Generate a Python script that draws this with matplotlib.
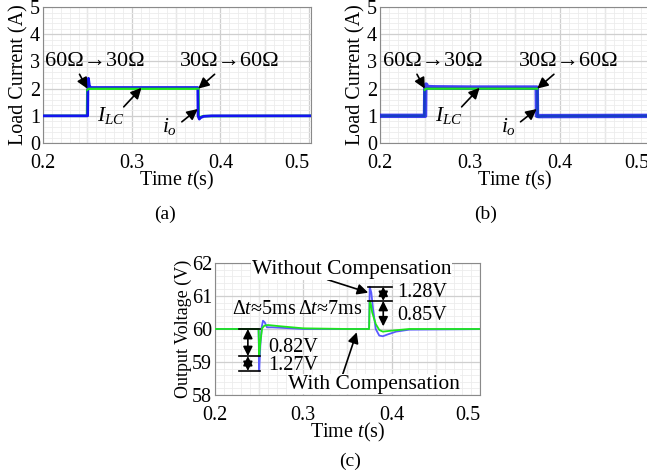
import matplotlib
matplotlib.use("Agg")
import numpy as np
import matplotlib.pyplot as plt
from matplotlib.ticker import MultipleLocator

plt.rcParams['font.family'] = ['Liberation Serif', 'DejaVu Serif']
plt.rcParams['mathtext.fontset'] = 'custom'
plt.rcParams['mathtext.rm'] = 'Liberation Serif'
plt.rcParams['mathtext.it'] = 'Liberation Serif:italic'
plt.rcParams['font.size'] = 14.5

# load current, case (a)
t_io_a = [0.2, 0.2503, 0.2506, 0.2512, 0.2522, 0.2535, 0.26, 0.30, 0.3745, 0.3748, 0.3762, 0.3775, 0.381, 0.39, 0.52]
io_a = [1.0, 1.0, 2.0, 2.38, 2.12, 2.04, 2.04, 2.04, 2.04, 1.0, 0.88, 0.93, 0.98, 1.0, 1.0]
t_ilc_a = [0.2, 0.2496, 0.2499, 0.2506, 0.2515, 0.3752, 0.3755, 0.377, 0.381, 0.52]
ilc_a = [1.0, 1.0, 1.95, 1.98, 2.0, 2.0, 0.96, 0.95, 0.99, 1.0]

# load current, case (b)
t_io_b = [0.2, 0.2503, 0.2506, 0.2515, 0.253, 0.26, 0.30, 0.3745, 0.3748, 0.377, 0.52]
io_b = [1.0, 1.0, 2.0, 2.15, 2.06, 2.05, 2.04, 2.04, 1.0, 0.99, 1.0]
t_ilc_b = [0.2, 0.2496, 0.2499, 0.2506, 0.2515, 0.3752, 0.3755, 0.377, 0.381, 0.52]
ilc_b = [1.0, 1.0, 1.95, 1.98, 2.0, 2.0, 0.97, 0.97, 0.99, 1.0]

# output voltage, (c)
t_wo = [0.2, 0.2495, 0.2502, 0.2515, 0.253, 0.2545, 0.2565, 0.259, 0.265, 0.30, 0.3745, 0.3752,
        0.377, 0.379, 0.382, 0.386, 0.39, 0.395, 0.405, 0.42, 0.52]
v_wo = [60.0, 60.0, 58.73, 59.5, 60.05, 60.25, 60.2, 60.05, 60.05, 60.0, 60.0, 61.28,
        61.1, 60.6, 60.0, 59.8, 59.78, 59.83, 59.92, 59.98, 60.0]
t_w = [0.2, 0.2495, 0.2502, 0.2515, 0.2535, 0.256, 0.26, 0.275, 0.30, 0.35, 0.3745, 0.3752,
       0.3765, 0.378, 0.382, 0.386, 0.39, 0.40, 0.42, 0.52]
v_w = [60.0, 60.0, 59.18, 59.6, 60.02, 60.1, 60.12, 60.08, 60.02, 60.0, 60.0, 60.85,
       60.75, 60.5, 60.15, 59.97, 59.92, 59.95, 60.0, 60.0]

blue = '#1414f0'
green = '#1ee61e'


def style_axes(ax, xlim, ylim, ymajor, yminor):
    ax.set_xlim(*xlim)
    ax.set_ylim(*ylim)
    ax.xaxis.set_minor_locator(MultipleLocator(0.01))
    ax.yaxis.set_major_locator(MultipleLocator(ymajor))
    ax.yaxis.set_minor_locator(MultipleLocator(yminor))
    for x in np.arange(xlim[0], xlim[1] + 1e-9, 0.05):
        ax.axvline(x, color='#cfcfcf', lw=0.9, zorder=0)
    ax.grid(which='major', axis='y', color='#cfcfcf', lw=0.9, zorder=0)
    ax.grid(which='minor', color='#ececec', lw=0.6, zorder=0)
    ax.set_axisbelow(True)
    ax.tick_params(which='both', length=0)
    ax.tick_params(axis='x', pad=8)
    ax.tick_params(axis='y', pad=2)
    for s in ax.spines.values():
        s.set_color('#8a8a8a')
        s.set_linewidth(0.8)
    ax.set_xticks([0.2, 0.3, 0.4, 0.5])
    ax.set_xticklabels(['0.2', '0.3', '0.4', '0.5'])
    ax.get_xticklabels()[-1].set_ha('right')
    ax.set_xlabel('Time $t$(s)', labelpad=-3)


fig = plt.figure(figsize=(6.47, 4.72), dpi=100)

arrow = dict(arrowstyle='-|>', color='k', lw=1.2, mutation_scale=16, shrinkA=0, shrinkB=0)
twoway = dict(arrowstyle='<|-|>', color='k', lw=1.2, mutation_scale=14, shrinkA=0, shrinkB=0)
wbox = dict(facecolor='white', edgecolor='none', pad=0.5)

panels = [
    ([0.0665, 0.697, 0.414, 0.288], t_io_a, io_a, t_ilc_a, ilc_a, 2.0, 0.502, '(a)', 0.255),
    ([0.587, 0.697, 0.417, 0.288], t_io_b, io_b, t_ilc_b, ilc_b, 3.2, 0.5, '(b)', 0.75),
]
for rect, t_io, io, t_ilc, ilc, lw_io, xmax, tag, tag_x in panels:
    ax = fig.add_axes(rect)
    ax.plot(t_ilc, ilc, color=green, lw=1.8, zorder=2)
    ax.plot(t_io, io, color=blue, lw=lw_io, alpha=0.8 if lw_io > 2 else 1, zorder=3)
    ax.plot(t_ilc[2:6], ilc[2:6], color=green, lw=1.4, zorder=4)
    style_axes(ax, (0.2, xmax), (0, 5), 1, 0.2)
    ax.set_ylabel('Load Current (A)', labelpad=1)
    ax.annotate('60Ω→30Ω', xy=(0.25, 2.0), xytext=(0.2585, 2.98), ha='center', va='center',
                fontsize=16, arrowprops=dict(arrow, relpos=(0.33, 0.0)), zorder=6)
    ax.annotate('30Ω→60Ω', xy=(0.375, 2.0), xytext=(0.4105, 2.98), ha='center', va='center',
                fontsize=16, arrowprops=dict(arrow, relpos=(0.38, 0.0)), zorder=6)
    ax.annotate('', xy=(0.311, 2.03), xytext=(0.291, 1.33), arrowprops=arrow, zorder=6)
    ax.text(0.277, 1.0, '$I_{LC}$', ha='center', va='center', fontsize=15.5)
    ax.annotate('', xy=(0.3745, 1.25), xytext=(0.3565, 0.78), arrowprops=arrow, zorder=6)
    ax.text(0.343, 0.62, '$i_o$', ha='center', va='center', fontsize=15.5)
    fig.text(tag_x, 0.545, tag, ha='center', va='center', fontsize=14)

# output voltage comparison
ax = fig.add_axes([0.332, 0.163, 0.41, 0.28])
ax.plot(t_wo, v_wo, color='#5a5aff', lw=1.3, zorder=2)
ax.plot(t_w, v_w, color=green, lw=1.3, zorder=3)
style_axes(ax, (0.2, 0.5), (58, 62), 1, 0.2)
ax.set_ylabel('Output Voltage (V)', labelpad=0, fontsize=13)

# drop / rise markers
for y in [60.0, 59.18, 58.73]:
    ax.plot([0.227, 0.251], [y, y], color='k', lw=1.2, zorder=5)
for y in [61.28, 60.85]:
    ax.plot([0.3735, 0.4005], [y, y], color='k', lw=1.2, zorder=5)
ax.annotate('', xy=(0.2374, 60.0), xytext=(0.2374, 59.18), arrowprops=twoway, zorder=6)
ax.annotate('', xy=(0.2374, 59.18), xytext=(0.2374, 58.73), arrowprops=twoway, zorder=6)
ax.annotate('', xy=(0.3905, 61.28), xytext=(0.3905, 60.85), arrowprops=twoway, zorder=6)
ax.annotate('', xy=(0.3905, 60.85), xytext=(0.3905, 60.08), arrowprops=twoway, zorder=6)
ax.text(0.2605, 59.45, '0.82V', ha='left', va='center')
ax.text(0.2605, 58.9, '1.27V', ha='left', va='center')
ax.text(0.4065, 61.09, '1.28V', ha='left', va='center')
ax.text(0.4065, 60.42, '0.85V', ha='left', va='center')
ax.text(0.2556, 60.6, 'Δ$t$≈5ms', ha='center', va='center')
ax.text(0.3305, 60.6, 'Δ$t$≈7ms', ha='center', va='center')
ax.annotate('Without Compensation', xy=(0.3735, 61.1), xytext=(0.3545, 61.8),
            ha='center', va='center', fontsize=15.5, bbox=wbox, annotation_clip=False,
            arrowprops=dict(arrow, relpos=(0.37, 0.0)), zorder=7)
ax.annotate('With Compensation', xy=(0.3605, 59.9), xytext=(0.3795, 58.33),
            ha='center', va='center', fontsize=15.5, bbox=wbox,
            arrowprops=dict(arrow, relpos=(0.32, 1.0)), zorder=7)
fig.text(0.541, 0.022, '(c)', ha='center', va='center', fontsize=14)

fig.savefig('out.png', dpi=100)
